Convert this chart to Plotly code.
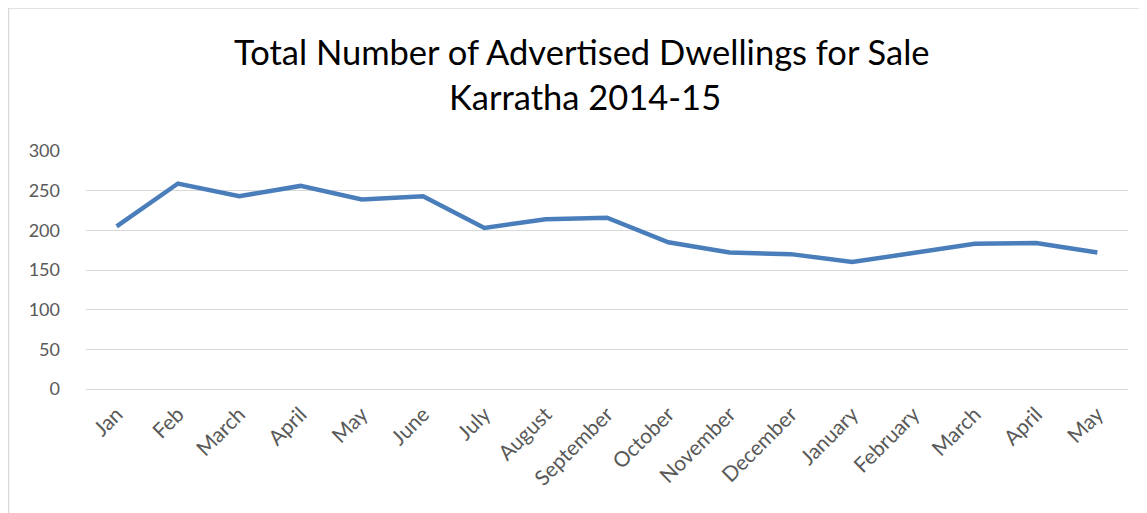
import plotly.graph_objects as go

months = ["Jan", "Feb", "March", "April", "May", "June", "July", "August",
          "September", "October", "November", "December", "January",
          "February", "March", "April", "May"]
dwellings = [205, 259, 243, 256, 239, 243, 203, 214, 216, 185, 172, 170,
             160, 171, 183, 184, 172]
y_ticks = [0, 50, 100, 150, 200, 250, 300]
title_lines = ["Total Number of Advertised Dwellings for Sale", "Karratha 2014-15"]

x_idx = list(range(len(months)))

fig = go.Figure()
fig.add_trace(go.Scatter(
    x=x_idx, y=dwellings, mode="lines",
    line=dict(color="#4A7EBB", width=4.5),
    hoverinfo="skip",
))

# page body has an 8px margin, so the figure starts at (8, 8) in the window
W, H = 1139, 505
ml, mr, mt, mb = 78, 19, 143, 124

pw = W - ml - mr
ph = H - mt - mb

def py(px_from_top):
    return (H - px_from_top - mb) / ph

def px(px_from_left):
    return (px_from_left - ml) / pw

fig.update_layout(
    width=W, height=H,
    margin=dict(l=ml, r=mr, t=mt, b=mb, pad=0),
    paper_bgcolor="white", plot_bgcolor="white",
    showlegend=False,
    font=dict(family="Lato, Open Sans, sans-serif", color="#595959"),
    xaxis=dict(
        tickmode="array", tickvals=x_idx, ticktext=months,
        range=[-0.5, len(months) - 0.5],
        tickangle=-45, tickfont=dict(size=21, color="#595959"),
        showgrid=False, zeroline=False, showline=False, ticks="",
        ticklabelstandoff=8,
    ),
    yaxis=dict(
        tickmode="array", tickvals=y_ticks,
        range=[0, 300], tickfont=dict(size=18, color="#595959"),
        showgrid=True, gridcolor="#D9D9D9", gridwidth=1,
        zeroline=True, zerolinecolor="#D9D9D9", zerolinewidth=1,
        showline=False, ticks="", ticklabelstandoff=25,
    ),
)

title_y = [44, 89]
title_x = [574, 577]
for txt, tx, ty in zip(title_lines, title_x, title_y):
    fig.add_annotation(
        text=txt, xref="paper", yref="paper",
        x=px(tx), y=py(ty),
        xanchor="center", yanchor="middle", showarrow=False,
        font=dict(size=34.5, color="#000000", family="Lato, Open Sans, sans-serif"),
    )

# chart-area border (left and top edges visible in reference)
fig.add_shape(type="line", xref="paper", yref="paper",
              x0=px(0.5), x1=px(W + 5), y0=py(0), y1=py(0),
              line=dict(color="#D9D9D9", width=1.5))
fig.add_shape(type="line", xref="paper", yref="paper",
              x0=px(0.5), x1=px(0.5), y0=py(0), y1=py(H + 5),
              line=dict(color="#D9D9D9", width=1.5))

fig.write_html("out.html")
